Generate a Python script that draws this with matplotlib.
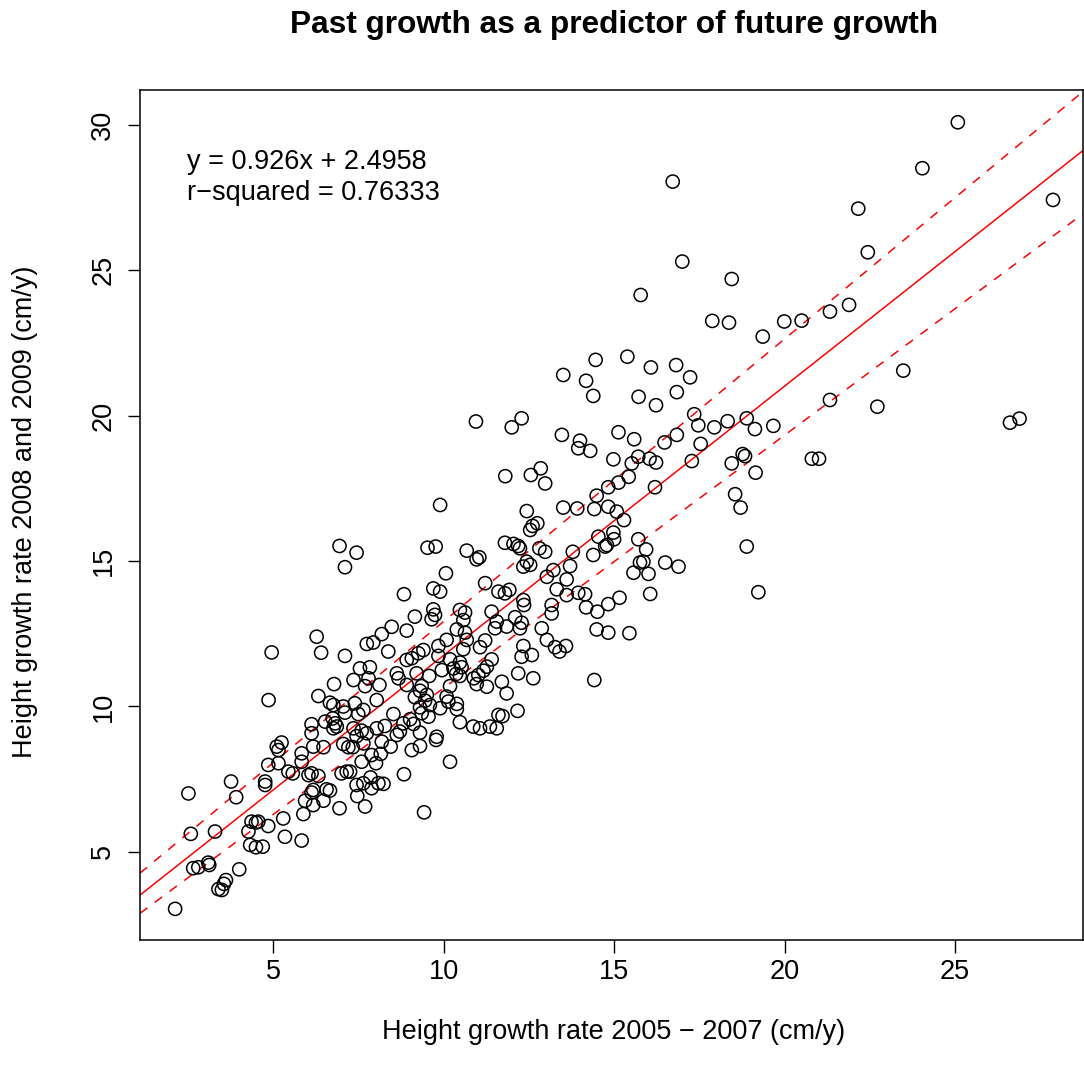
import matplotlib.pyplot as plt
import numpy as np

plt.rcParams['font.family'] = ['Liberation Sans', 'DejaVu Sans']

# height growth rate (cm/y) per tree: 2005-2007 vs 2008-2009
growth_0507 = [
    2.13, 3.62, 3.56, 3.40, 3.50, 4.01, 2.66, 2.81, 3.10, 3.13,
    2.59, 3.30, 2.52, 3.77, 3.92, 4.28, 4.37, 4.50, 4.57, 4.33,
    4.50, 4.70, 4.86, 5.35, 5.30, 5.84, 5.89, 5.94, 6.18, 6.48,
    6.95, 6.18, 6.13, 6.57, 6.67, 4.77, 4.77, 4.86, 5.16, 5.45,
    5.58, 5.84, 5.84, 6.04, 6.13, 6.33, 7.01, 7.16, 5.11, 5.25,
    5.16, 6.18, 6.48, 7.06, 7.21,
    6.95, 7.11, 6.28, 4.96, 6.41, 7.11, 6.79, 4.87, 6.33, 6.67,
    6.77, 7.06, 7.11, 6.13, 6.53, 6.75, 6.82, 6.77, 6.87, 6.13,
    7.34, 7.65, 8.19, 8.45, 9.07, 9.31, 9.78, 7.89, 8.16, 7.60,
    8.02, 10.19, 8.84, 7.26, 7.86, 7.45, 7.65, 7.89, 8.09, 8.24,
    7.47, 7.70, 9.43,
    12.54, 12.44, 12.34, 10.07, 13.03, 11.22, 9.70, 9.90, 8.84, 11.61,
    11.80, 11.93, 12.34, 12.36, 9.70, 9.75, 10.48, 10.63, 11.41, 9.16,
    9.65, 10.58, 11.56, 12.10, 12.29, 12.24, 8.48, 8.92, 8.19, 10.39,
    10.63, 11.51, 11.85, 12.88, 7.75, 7.94, 8.38, 10.09, 9.85, 10.68,
    11.22, 11.07, 12.34, 12.59, 12.29, 13.03, 9.41, 9.26, 9.07, 8.92,
    10.58, 9.85, 10.19, 11.41, 7.55, 7.84, 10.48, 10.29, 10.53, 10.37,
    10.48, 11.27, 11.17, 11.02, 10.89, 10.97, 8.63, 8.68, 9.21, 9.58,
    9.95, 11.71, 12.19, 12.63, 7.36, 7.80, 7.70, 8.12, 8.92, 9.36,
    9.31, 9.51, 10.19, 11.27, 11.85, 7.40, 7.65, 7.50, 8.04, 9.16,
    9.46, 9.60, 9.31, 9.36, 9.56, 10.09, 10.14, 10.39, 10.39, 9.90,
    8.53, 9.02, 8.28, 8.04, 8.82, 8.72, 9.12, 9.31, 9.80, 10.48,
    10.87, 11.07, 11.36, 11.56, 11.61, 11.73, 12.17, 7.36, 7.60, 7.45,
    7.75, 8.63,
    10.95, 12.00, 12.29, 11.81, 12.56, 12.85, 12.98, 9.90, 12.44, 12.54,
    12.61, 12.75, 7.45, 9.53, 9.77, 10.68, 11.80, 12.05, 12.19, 12.24,
    12.81, 12.98, 10.97, 11.05,
    13.71, 13.22, 13.61, 13.32, 13.61, 13.95, 14.15, 14.18, 14.51, 14.83,
    15.16, 13.17, 13.17, 14.49, 14.83, 15.45, 16.06, 15.57, 16.01, 15.76,
    15.86, 16.50, 16.89, 13.27, 13.40, 13.59, 14.42,
    14.46, 15.39, 13.51, 14.18, 14.39, 16.08, 16.82, 17.23, 15.72, 16.23,
    16.84, 13.47, 14.00, 13.95, 14.30, 15.13, 15.59, 14.98, 15.52, 15.71,
    16.04, 16.23, 16.48, 16.84, 17.35, 17.47, 17.94, 18.33, 18.89, 17.54,
    17.28, 18.45, 18.77, 18.84, 15.43, 15.13, 14.83, 14.49, 16.20, 13.51,
    13.92, 14.42, 14.83, 15.08, 15.29, 18.55, 18.71, 14.54, 14.98, 15.00,
    14.74, 14.79, 13.79, 15.71, 15.94, 14.39, 18.89,
    16.72, 17.00, 18.45, 15.78, 17.88, 18.37,
    23.48, 21.33, 22.72, 19.13, 19.67, 26.61, 26.89, 20.80, 21.01, 19.15,
    19.23,
    25.08, 24.04, 22.16, 22.44, 27.87, 19.36, 19.99, 20.50, 21.33, 21.89,
]
growth_0809 = [
    3.04, 4.03, 3.90, 3.72, 3.69, 4.40, 4.44, 4.47, 4.63, 4.55,
    5.62, 5.70, 7.01, 7.42, 6.88, 5.70, 6.04, 6.01, 6.04, 5.24,
    5.16, 5.18, 5.89, 5.52, 6.15, 5.39, 6.30, 6.76, 6.61, 6.76,
    6.50, 7.13, 7.04, 7.15, 7.11, 7.42, 7.30, 7.99, 8.05, 7.76,
    7.70, 8.10, 8.39, 7.64, 7.70, 7.61, 7.70, 7.76, 8.62, 8.76,
    8.50, 8.62, 8.60, 8.71, 8.60,
    15.52, 14.79, 12.40, 11.86, 11.85, 11.74, 10.77, 10.22, 10.36, 10.13,
    10.05, 10.00, 9.79, 9.39, 9.48, 9.59, 9.42, 9.25, 9.31, 9.08,
    8.60, 8.73, 8.79, 8.62, 8.50, 8.64, 8.85, 8.33, 8.37, 8.10,
    8.05, 8.10, 7.67, 7.76, 7.56, 7.30, 7.36, 7.19, 7.36, 7.34,
    6.92, 6.56, 6.36,
    14.87, 14.98, 14.81, 14.58, 14.46, 14.24, 14.06, 13.95, 13.86, 13.95,
    13.89, 14.01, 13.66, 13.49, 13.34, 13.15, 13.32, 13.23, 13.26, 13.09,
    13.00, 12.97, 12.92, 13.07, 12.88, 12.69, 12.74, 12.61, 12.49, 12.65,
    12.54, 12.69, 12.75, 12.69, 12.15, 12.20, 11.89, 12.29, 12.08, 12.29,
    12.27, 12.04, 12.08, 11.77, 11.71, 12.29, 11.94, 11.83, 11.66, 11.60,
    11.97, 11.74, 11.62, 11.62, 11.31, 11.35, 11.51, 11.31, 11.35, 11.12,
    11.05, 11.37, 11.23, 11.08, 10.97, 10.77, 11.14, 10.97, 11.14, 11.05,
    11.25, 10.85, 11.14, 10.97, 10.91, 10.97, 10.70, 10.74, 10.74, 10.70,
    10.54, 10.40, 10.70, 10.68, 10.45, 10.11, 9.88, 9.74, 10.22, 10.32,
    10.20, 10.05, 9.97, 9.77, 9.65, 10.34, 10.17, 10.09, 9.91, 9.94,
    9.74, 9.56, 9.33, 9.25, 9.42, 9.14, 9.40, 9.10, 8.96, 9.46,
    9.31, 9.25, 9.31, 9.25, 9.71, 9.67, 9.85, 9.25, 9.17, 8.98,
    9.08, 9.02,
    19.80, 19.60, 19.91, 17.92, 17.96, 18.19, 17.67, 16.93, 16.72, 16.07,
    16.21, 16.30, 15.29, 15.46, 15.50, 15.36, 15.63, 15.59, 15.52, 15.44,
    15.44, 15.32, 15.06, 15.13,
    14.83, 14.69, 14.37, 14.03, 13.83, 13.91, 13.86, 13.41, 13.26, 13.52,
    13.74, 13.49, 13.20, 12.65, 12.54, 12.52, 13.87, 14.60, 14.56, 14.95,
    14.98, 14.95, 14.81, 12.04, 11.89, 12.08, 10.91,
    21.92, 22.03, 21.40, 21.20, 20.68, 21.66, 21.74, 21.32, 20.65, 20.36,
    20.81, 19.34, 19.14, 18.88, 18.79, 19.43, 19.19, 18.50, 18.36, 18.59,
    18.52, 18.39, 19.08, 19.34, 20.05, 19.67, 19.60, 19.81, 19.91, 19.03,
    18.44, 18.36, 18.68, 18.61, 17.90, 17.70, 17.54, 17.25, 17.54, 16.84,
    16.81, 16.79, 16.87, 16.70, 16.41, 17.30, 16.84, 15.84, 15.98, 15.75,
    15.50, 15.55, 15.32, 15.75, 15.40, 15.21, 15.50,
    28.05, 25.30, 24.70, 24.15, 23.26, 23.20,
    21.55, 20.54, 20.31, 19.54, 19.65, 19.76, 19.90, 18.52, 18.52, 18.04,
    13.93,
    30.09, 28.51, 27.12, 25.62, 27.42, 22.72, 23.24, 23.27, 23.58, 23.81,
]

# linear fit and the two bounding lines
fit_slope, fit_intercept, r_squared = 0.926, 2.4958, 0.76333
upper_slope, upper_intercept = 0.972, 3.20
lower_slope, lower_intercept = 0.870, 1.93

x_ticks = [5, 10, 15, 20, 25]
y_ticks = [5, 10, 15, 20, 25, 30]

fig = plt.figure(figsize=(10.84, 10.75), dpi=100)
ax = fig.add_axes([140 / 1084, 1 - 940 / 1075, 943 / 1084, 850 / 1075])

ax.scatter(growth_0507, growth_0809, s=90, facecolors='none',
           edgecolors='black', linewidths=1.1, zorder=3)

xlim = (1.10, 28.75)
ylim = (1.97, 31.2)
xs = np.array(xlim)
ax.plot(xs, fit_intercept + fit_slope * xs, color='red', lw=1.1, zorder=2)
ax.plot(xs, upper_intercept + upper_slope * xs, color='red', lw=1.1,
        ls=(0, (6, 6)), zorder=2)
ax.plot(xs, lower_intercept + lower_slope * xs, color='red', lw=1.1,
        ls=(0, (6, 6)), zorder=2)

ax.set_xlim(xlim)
ax.set_ylim(ylim)
ax.set_xticks(x_ticks)
ax.set_yticks(y_ticks)
ax.tick_params(direction='out', length=9, width=1, labelsize=19.5)
ax.tick_params(axis='x', pad=5)
ax.tick_params(axis='y', pad=8)
for lab in ax.get_yticklabels():
    lab.set_rotation(90)
    lab.set_va('center')
for sp in ax.spines.values():
    sp.set_linewidth(1.1)

ax.text(0.05, 0.915, f'y = {fit_slope}x + {fit_intercept}', transform=ax.transAxes,
        fontsize=19.5, va='center', ha='left')
ax.text(0.05, 0.879, f'r\u2212squared = {r_squared}', transform=ax.transAxes,
        fontsize=19.5, va='center', ha='left')

fig.text(614 / 1084, 1 - 25 / 1075, 'Past growth as a predictor of future growth',
         ha='center', va='center', fontsize=22.8, fontweight='bold')
fig.text(614 / 1084, 1 - 1032 / 1075, 'Height growth rate 2005 \u2212 2007 (cm/y)',
         ha='center', va='center', fontsize=19.5)
fig.text(25 / 1084, 1 - 512 / 1075, 'Height growth rate 2008 and 2009 (cm/y)',
         ha='center', va='center', fontsize=19.5, rotation=90)

fig.savefig('out.png', dpi=100)
